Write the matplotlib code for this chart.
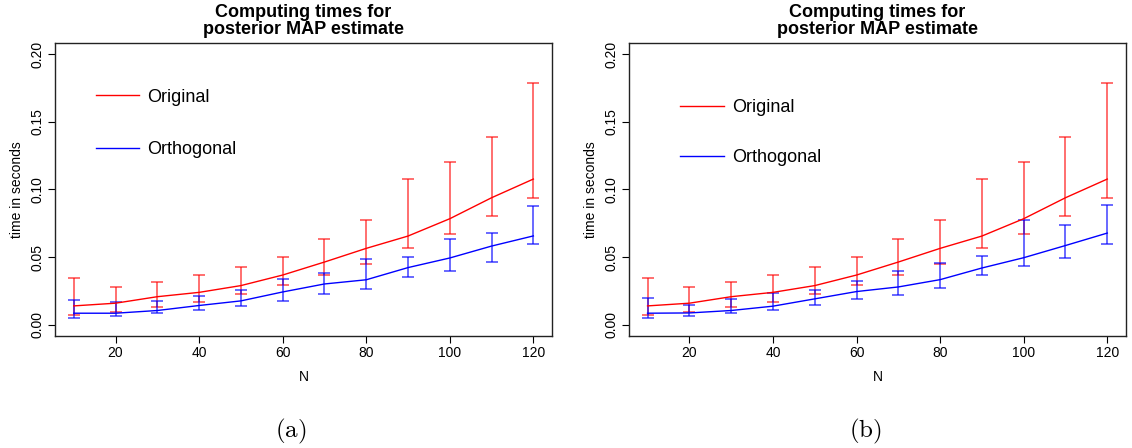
import numpy as np
import matplotlib
matplotlib.use("Agg")
import matplotlib.pyplot as plt

plt.rcParams['font.family'] = ['Liberation Sans', 'DejaVu Sans']
plt.rcParams['mathtext.fontset'] = 'cm'

# Tamanho da amostra
N = np.array([10, 20, 30, 40, 50, 60, 70, 80, 90, 100, 110, 120])

# Original (igual nos dois painéis)
orig_mean = np.array([0.0140, 0.0160, 0.0208, 0.0240, 0.0290, 0.0368, 0.0464, 0.0565, 0.0656, 0.0784, 0.0939, 0.1077])
orig_lo = np.array([0.0074, 0.0093, 0.0133, 0.0170, 0.0231, 0.0292, 0.0371, 0.0452, 0.0568, 0.0671, 0.0806, 0.0939])
orig_hi = np.array([0.0344, 0.0283, 0.0319, 0.0369, 0.0428, 0.0501, 0.0631, 0.0776, 0.1081, 0.1206, 0.1386, 0.1788])

# Orthogonal, painel (a)
orth_a_mean = np.array([0.0086, 0.0086, 0.0106, 0.0143, 0.0177, 0.0243, 0.0302, 0.0333, 0.0423, 0.0494, 0.0582, 0.0657])
orth_a_lo = np.array([0.0052, 0.0064, 0.0086, 0.0111, 0.0140, 0.0177, 0.0231, 0.0268, 0.0354, 0.0396, 0.0467, 0.0596])
orth_a_hi = np.array([0.0187, 0.0167, 0.0179, 0.0214, 0.0258, 0.0339, 0.0381, 0.0489, 0.0504, 0.0636, 0.0676, 0.0875])

# Orthogonal, painel (b)
orth_b_mean = np.array([0.0086, 0.0088, 0.0106, 0.0138, 0.0192, 0.0246, 0.0280, 0.0334, 0.0420, 0.0496, 0.0586, 0.0678])
orth_b_lo = np.array([0.0052, 0.0064, 0.0084, 0.0108, 0.0150, 0.0194, 0.0224, 0.0270, 0.0369, 0.0437, 0.0493, 0.0600])
orth_b_hi = np.array([0.0201, 0.0150, 0.0194, 0.0233, 0.0258, 0.0324, 0.0396, 0.0459, 0.0509, 0.0774, 0.0741, 0.0882])

panels = [
    ("(a)", orth_a_mean, orth_a_lo, orth_a_hi, [0.0489, 0.2507, 0.4385, 0.6527], (0.082, 0.845), 1.97),
    ("(b)", orth_b_mean, orth_b_lo, orth_b_hi, [0.5558, 0.2507, 0.4386, 0.6527], (0.103, 0.808), 1.8),
]

fig = plt.figure(figsize=(11.32, 4.48), dpi=100)

for cap, om, olo, ohi, rect, leg_pos, leg_sp in panels:
    ax = fig.add_axes(rect)

    ax.errorbar(N, orig_mean, yerr=[orig_mean - orig_lo, orig_hi - orig_mean], fmt='none',
                ecolor='red', alpha=0.72, elinewidth=1.1, capsize=4.3, capthick=1.1)
    ax.errorbar(N, om, yerr=[om - olo, ohi - om], fmt='none',
                ecolor='blue', alpha=0.75, elinewidth=1.1, capsize=4.3, capthick=1.1)
    ax.plot(N, orig_mean, color='red', lw=1.0, label='Original')
    ax.plot(N, om, color='blue', lw=1.0, label='Orthogonal')

    ax.set_xlim(5.6, 124.4)
    ax.set_ylim(-0.008, 0.208)
    ax.set_xticks([20, 40, 60, 80, 100, 120])
    ax.set_yticks([0.0, 0.05, 0.10, 0.15, 0.20])
    ax.set_yticklabels(["0.00", "0.05", "0.10", "0.15", "0.20"])
    ax.tick_params(length=5, width=0.8, labelsize=10, pad=2.5, color='black')
    plt.setp(ax.get_yticklabels(), rotation=90, va='center')
    for s in ax.spines.values():
        s.set_linewidth(1.0)
        s.set_color('#222222')

    ax.set_xlabel("N", fontsize=10, labelpad=7)
    ax.set_ylabel("time in seconds", fontsize=10, labelpad=5)
    ax.set_title("Computing times for\nposterior MAP estimate", fontsize=13, fontweight='bold',
                 linespacing=0.95, pad=7)

    ax.legend(loc='upper left', bbox_to_anchor=leg_pos, frameon=False, fontsize=13,
              handlelength=2.4, handletextpad=0.45, labelspacing=leg_sp,
              borderpad=0, borderaxespad=0)

    xc = rect[0] + rect[2] / 2 - 0.011
    fig.text(xc, 1 - 431.7 / 448, r"$(\mathrm{%s})$" % cap[1], fontsize=18,
             ha='center', va='center')

fig.savefig("out.png", dpi=100)
